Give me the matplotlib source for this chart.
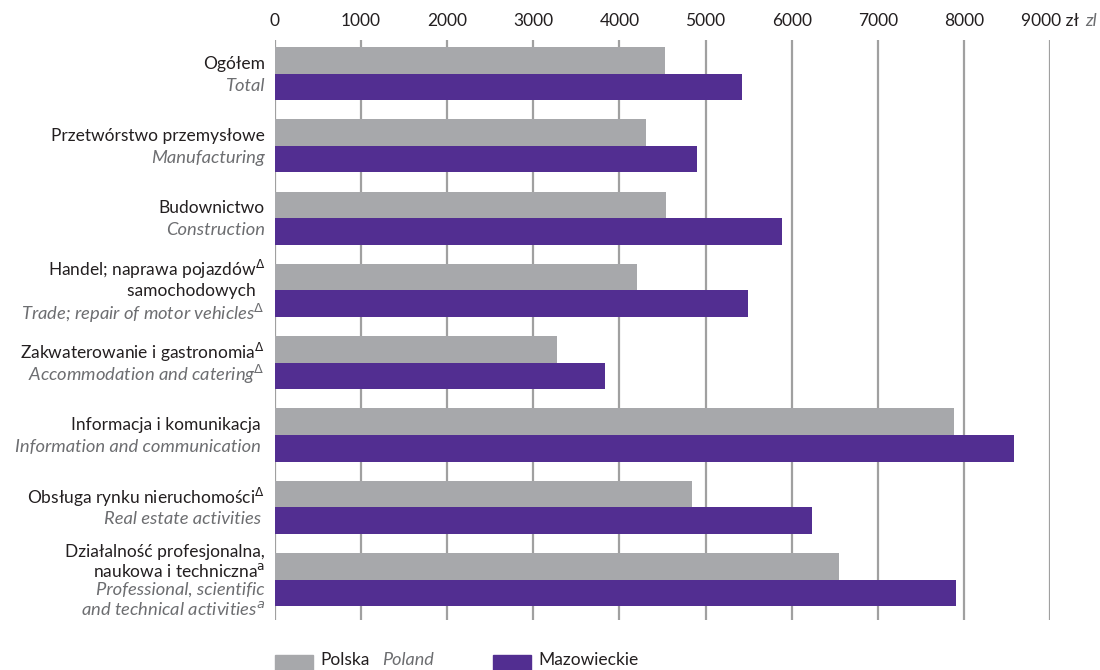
import matplotlib.pyplot as plt
from matplotlib.patches import Rectangle

# categories (Polish lines, English lines)
labels_pl = [
    ['Ogółem'],
    ['Przetwórstwo przemysłowe'],
    ['Budownictwo'],
    [r'Handel; naprawa pojazdów$^{\Delta}$', 'samochodowych  '],
    [r'Zakwaterowanie i gastronomia$^{\Delta}$'],
    ['Informacja i komunikacja '],
    [r'Obsługa rynku nieruchomości$^{\Delta}$'],
    ['Działalność profesjonalna,', r'naukowa i techniczna$^{\mathrm{a}}$'],
]
labels_en = [
    ['Total'],
    ['Manufacturing'],
    ['Construction'],
    [r'Trade; repair of motor vehicles$^{\Delta}$'],
    [r'Accommodation and catering$^{\Delta}$'],
    ['Information and communication '],
    ['Real estate activities '],
    ['Professional, scientific', r'and technical activities$^{a}$'],
]
polska = [4530, 4309, 4541, 4204, 3275, 7886, 4843, 6550]
mazowieckie = [5424, 4901, 5888, 5494, 3833, 8583, 6237, 7909]
ticks = [0, 1000, 2000, 3000, 4000, 5000, 6000, 7000, 8000, 9000]
tick_labels = ['0', '1000', '2000', '3000', '4000', '5000', '6000', '7000', '8000', '9000 zł']

GRAY = '#a7a8ab'
PURPLE = '#522e91'
TXT2 = '#6d6e71'

plt.rcParams['font.family'] = ['Lato', 'DejaVu Sans']
plt.rcParams['mathtext.fontset'] = 'dejavusans'

fig = plt.figure(figsize=(11, 6.7), dpi=100)
ax = fig.add_axes([0.25, 0.0746, 0.7045, 0.8657])

h = 0.367
ys = list(range(len(polska)))
ax.barh([y - h / 2 for y in ys], polska, height=h, color=GRAY, zorder=2)
ax.barh([y + h / 2 for y in ys], mazowieckie, height=h, color=PURPLE, zorder=2)

ax.set_xlim(0, 9000)
ax.set_ylim(7.56, -0.465)
ax.xaxis.tick_top()
ax.set_xticks(ticks)
ax.set_xticklabels(tick_labels, fontsize=12.5, color='#231f20')
ax.tick_params(axis='x', length=0, pad=8)
ax.set_yticks([])
for s in ax.spines.values():
    s.set_visible(False)
for t in ticks:
    ax.axvline(t, color='#a0a0a0', lw=1.6, zorder=1)
# unit after last tick
fig.text(1085 / 1100, 1 - 26 / 670, 'zl', ha='left', va='baseline',
         fontsize=13, style='italic', color=TXT2)

# category labels
step = 22
for i in ys:
    lines = [(l, '#231f20', 'normal', 12.5) for l in labels_pl[i]] + \
            [(l, TXT2, 'italic', 13.2) for l in labels_en[i]]
    n = len(lines)
    sp = step if n < 4 else 19
    for k, (txt, col, st, fs) in enumerate(lines):
        off = ((n - 1) / 2 - k) * sp
        ax.annotate(txt, xy=(0, i), xycoords=('axes fraction', 'data'),
                    xytext=(-10, off - 1), textcoords='offset pixels',
                    ha='right', va='center', fontsize=fs, color=col, style=st)

# legend at the bottom
fig.add_artist(Rectangle((275 / 1100, 0), 38 / 1100, 15 / 670, transform=fig.transFigure,
                         color=GRAY))
fig.text(320 / 1100, 10 / 670, 'Polska', fontsize=12.5, color='#231f20', va='center')
fig.text(382 / 1100, 10 / 670, 'Poland', fontsize=13, color=TXT2, style='italic', va='center')
fig.add_artist(Rectangle((493 / 1100, 0), 38 / 1100, 15 / 670, transform=fig.transFigure,
                         color=PURPLE))
fig.text(538 / 1100, 10 / 670, 'Mazowieckie', fontsize=12.5, color='#231f20', va='center')

plt.savefig('out.png', dpi=100)
